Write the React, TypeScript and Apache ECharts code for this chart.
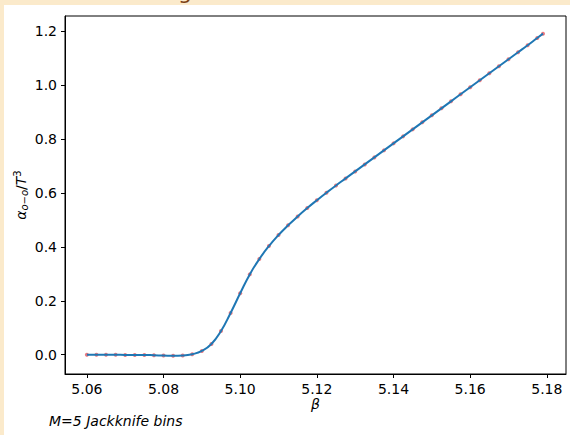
import React, { useEffect, useRef } from "react";
import * as echarts from "echarts";

const betaValues = [
  5.06, 5.0625, 5.065, 5.0675, 5.07, 5.0725, 5.075, 5.0775, 5.08, 5.0825,
  5.085, 5.0875, 5.09, 5.0925, 5.095, 5.0975, 5.1, 5.1025, 5.105, 5.1075,
  5.11, 5.1125, 5.115, 5.1175, 5.12, 5.1225, 5.125, 5.1275, 5.13, 5.1325,
  5.135, 5.1375, 5.14, 5.1425, 5.145, 5.1475, 5.15, 5.1525, 5.155, 5.1575,
  5.16, 5.1625, 5.165, 5.1675, 5.17, 5.1725, 5.175, 5.1775, 5.179,
];
const alphaValues = [
  0.0, 0.0, 0.0, 0.0, -0.001, -0.001, -0.001, -0.002, -0.003, -0.004,
  -0.003, 0.002, 0.014, 0.04, 0.088, 0.155, 0.228, 0.298, 0.355, 0.403,
  0.444, 0.48, 0.513, 0.544, 0.573, 0.601, 0.628, 0.654, 0.68, 0.706,
  0.732, 0.758, 0.784, 0.81, 0.836, 0.862, 0.888, 0.914, 0.94, 0.966,
  0.992, 1.018, 1.044, 1.07, 1.096, 1.122, 1.148, 1.175, 1.191,
];
const xTicks = [5.06, 5.08, 5.1, 5.12, 5.14, 5.16, 5.18];
const yTicks = [0, 0.2, 0.4, 0.6, 0.8, 1.0, 1.2];

const FONT = "DejaVu Sans";
const FS = 14;

export default function App() {
  const ref = useRef<HTMLDivElement>(null);
  useEffect(() => {
    document.body.style.margin = "0";
    const chart = echarts.init(ref.current!, null, { renderer: "svg" });
    const pts = betaValues.map((b, i) => [b, alphaValues[i]]);
    chart.setOption({
      animation: false,
      backgroundColor: "transparent",
      textStyle: { fontFamily: FONT },
      graphic: [
        {
          type: "rect",
          z: -10,
          shape: { x: 4, y: 5, width: 566, height: 430 },
          style: { fill: "#ffffff" },
          silent: true,
        },
        {
          type: "text",
          x: 178,
          y: -20,
          style: {
            text: "g",
            fill: "#7b3f14",
            font: "22px DejaVu Sans",
          },
          silent: true,
        },
        {
          type: "text",
          x: 49,
          y: 414,
          style: {
            text: "M=5 Jackknife bins",
            fill: "#000",
            font: "italic 14px DejaVu Sans",
          },
          silent: true,
        },
      ],
      grid: {
        left: 65,
        top: 16,
        right: 4,
        bottom: 61,
        show: true,
        borderColor: "#000",
        borderWidth: 1,
        backgroundColor: "#fff",
      },
      xAxis: {
        type: "value",
        min: 5.0543,
        max: 5.185,
        name: "β",
        nameLocation: "middle",
        nameGap: 23,
        nameMoveOverlap: false,
        nameTextStyle: { fontFamily: FONT, fontSize: FS, fontStyle: "italic", color: "#000" },
        axisLine: { show: true, onZero: false, lineStyle: { color: "#000", width: 1 } },
        axisTick: { show: true, length: 4, inside: false, customValues: xTicks, lineStyle: { color: "#000" } },
        axisLabel: {
          customValues: xTicks,
          margin: 8,
          fontFamily: FONT,
          fontSize: FS,
          color: "#000",
          formatter: (v: number) => v.toFixed(2),
        },
        splitLine: { show: false },
      },
      yAxis: {
        type: "value",
        min: -0.0715,
        max: 1.2565,
        name: "{a|α}{s|o−o}{n|/}{a|T}{p|3}",
        nameLocation: "middle",
        nameRotate: 90,
        nameGap: 36,
        nameMoveOverlap: false,
        nameTextStyle: {
          color: "#000",
          rich: {
            a: { fontFamily: FONT, fontSize: FS, fontStyle: "italic", color: "#000", lineHeight: 17, verticalAlign: "middle" },
            n: { fontFamily: FONT, fontSize: FS, color: "#000", lineHeight: 17, verticalAlign: "middle" },
            s: { fontFamily: FONT, fontSize: 10, fontStyle: "italic", color: "#000", lineHeight: 10, verticalAlign: "bottom" },
            p: { fontFamily: FONT, fontSize: 10, color: "#000", lineHeight: 10, verticalAlign: "top" },
          },
        },
        axisLine: { show: true, onZero: false, lineStyle: { color: "#000", width: 1 } },
        axisTick: { show: true, length: 4, inside: false, customValues: yTicks, lineStyle: { color: "#000" } },
        axisLabel: {
          customValues: yTicks,
          margin: 8,
          fontFamily: FONT,
          fontSize: FS,
          color: "#000",
          formatter: (v: number) => v.toFixed(1),
        },
        splitLine: { show: false },
      },
      series: [
        {
          type: "scatter",
          data: pts,
          symbol: "circle",
          symbolSize: 4,
          itemStyle: { color: "rgba(225,45,55,0.8)" },
          z: 1,
          silent: true,
        },
        {
          type: "line",
          data: pts,
          smooth: true,
          showSymbol: false,
          lineStyle: { color: "#1f77b4", width: 2 },
          z: 3,
          silent: true,
        },
      ],
    });
    return () => chart.dispose();
  }, []);
  return (
    <div
      style={{ position: "fixed", left: 0, top: 0, width: 570, height: 435, background: "#fbeacb" }}
    >
      <div ref={ref} style={{ width: 570, height: 435 }} />
    </div>
  );
}
